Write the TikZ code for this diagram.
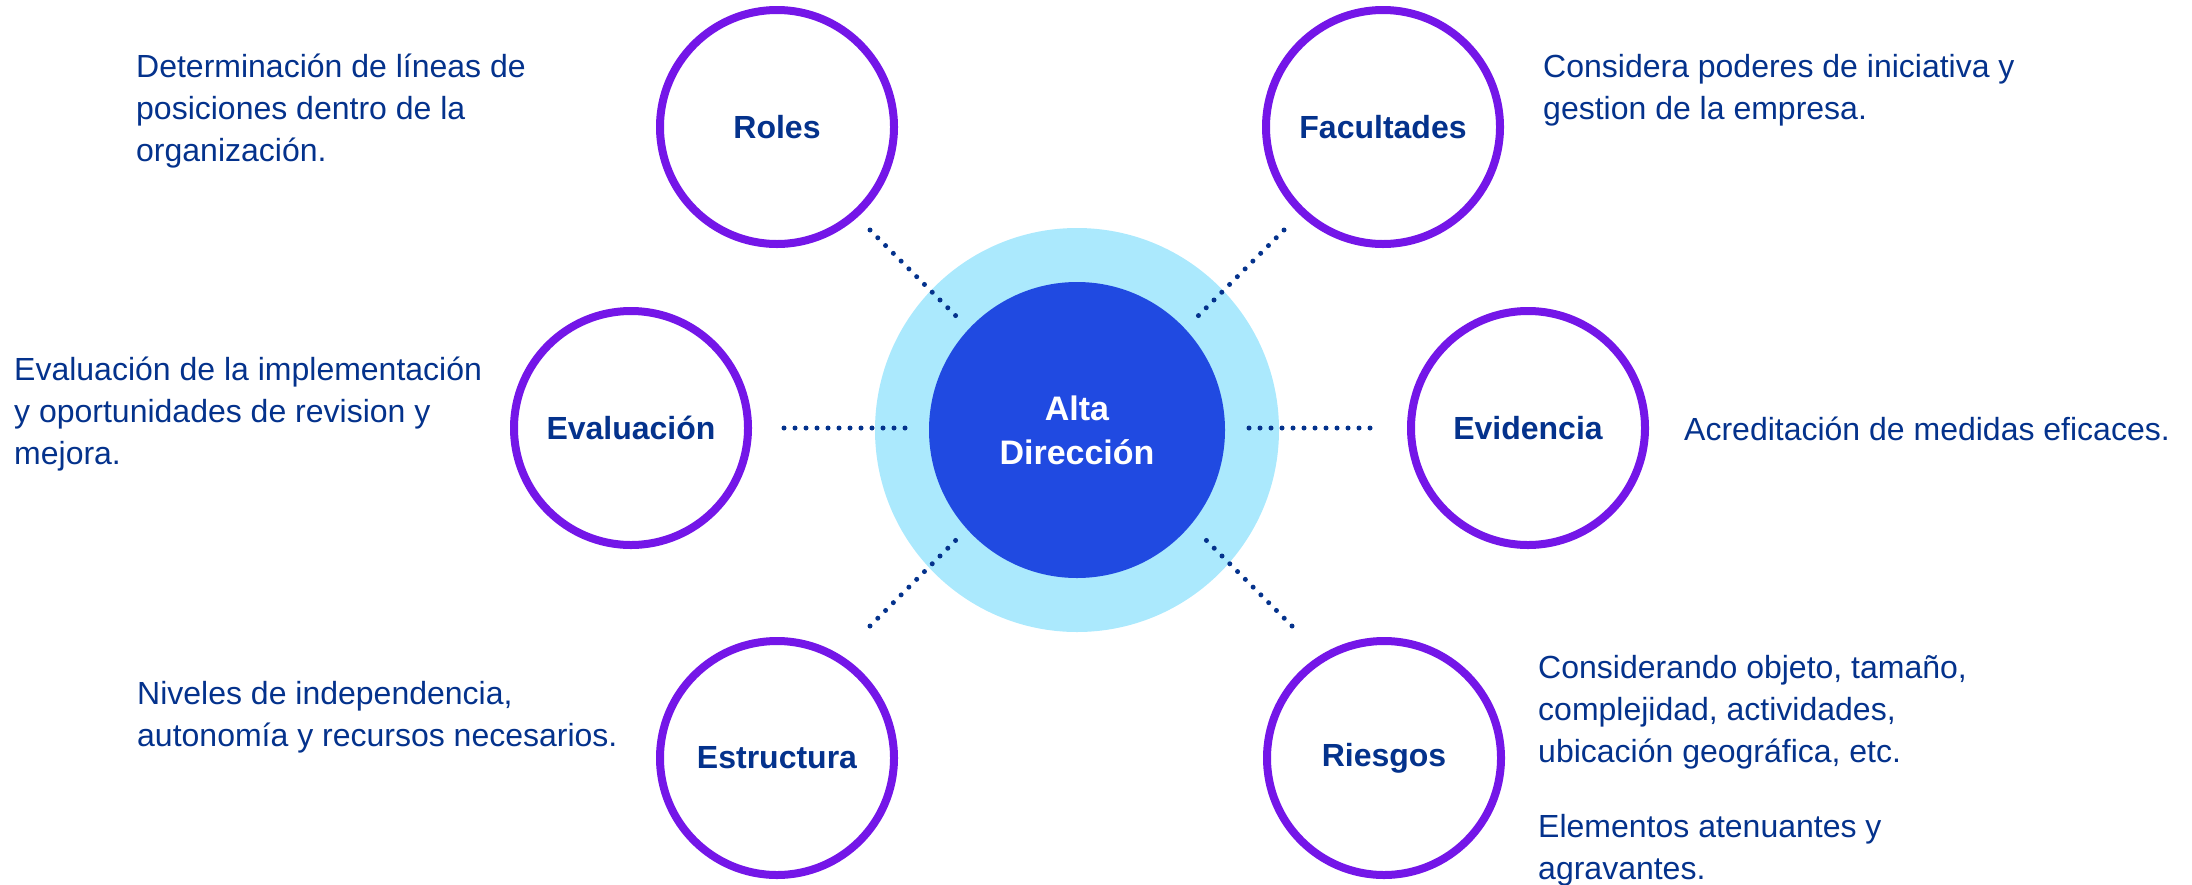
\documentclass[tikz,border=0pt]{standalone}
\usepackage{fontspec}
\setmainfont{Liberation Sans}
\usetikzlibrary{calc}
\definecolor{navy}{RGB}{4,50,140}
\definecolor{ringpurple}{RGB}{116,22,232}
\definecolor{halo}{RGB}{171,233,253}
\definecolor{corebl}{RGB}{32,74,225}
\tikzset{
  topic/.style={circle, draw=ringpurple, line width=8pt, fill=white, minimum size=234pt, inner sep=0pt,
    text=navy, font=\bfseries\fontsize{32}{38}\selectfont},
  desc/.style={anchor=base west, align=left, inner sep=0pt, text=navy, font=\fontsize{32}{42}\selectfont},
  dotline/.style={draw=navy, line width=5pt, line cap=round, dash pattern=on 0pt off 11pt},
}
\begin{document}
\begin{tikzpicture}[x=1pt,y=-1pt]
\useasboundingbox (0,0) rectangle (2192,884);
% hub
\node[circle, fill=halo, minimum size=404pt, inner sep=0pt] (hub) at (1077,430) {};
\node[circle, fill=corebl, minimum size=296pt, inner sep=0pt, text=white, align=center,
  font=\bfseries\fontsize{34}{44}\selectfont] (core) at (1077,430) {Alta\\Dirección};
% topics
\node[topic] (roles) at (777,127) {Roles};
\node[topic] (facul) at (1383,127) {Facultades};
\node[topic] (evalu) at (631,428) {Evaluación};
\node[topic] (evide) at (1528,428) {Evidencia};
\node[topic] (estru) at (777,758) {Estructura};
\node[topic] (riesg) at (1384,758) {Riesgos};
% dotted connectors
\coordinate (r1) at (870,230); \coordinate (r2) at (956,316);
\coordinate (f1) at (1284,230); \coordinate (f2) at (1198,316);
\coordinate (e1) at (784,428); \coordinate (e2) at (906,428);
\coordinate (v1) at (1370,428); \coordinate (v2) at (1248,428);
\coordinate (s1) at (870,626); \coordinate (s2) at (956,540);
\coordinate (q1) at (1292,626); \coordinate (q2) at (1206,540);
\draw[dotline] (r1) -- (r2);
\draw[dotline] (f1) -- (f2);
\draw[dotline] (e1) -- (e2);
\draw[dotline] (v1) -- (v2);
\draw[dotline] (s1) -- (s2);
\draw[dotline] (q1) -- (q2);
% descriptions (anchor = baseline of last line)
\node[desc] (droles) at (136,161) {Determinación de líneas de\\posiciones dentro de la\\organización.};
\node[desc] (devalu) at (14,464) {Evaluación de la implementación\\y oportunidades de revision y\\mejora.};
\node[desc] (dfacul) at (1543,119) {Considera poderes de iniciativa y\\gestion de la empresa.};
\node[desc] (devide) at (1684,440) {Acreditación de medidas eficaces.};
\node[desc] (destru) at (137,746) {Niveles de independencia,\\autonomía y recursos necesarios.};
\node[desc] (driesg) at (1538,762) {Considerando objeto, tamaño,\\complejidad, actividades,\\ubicación geográfica, etc.};
\node[desc] (driesg2) at (1538,879) {Elementos atenuantes y\\agravantes.};
\end{tikzpicture}
\end{document}
